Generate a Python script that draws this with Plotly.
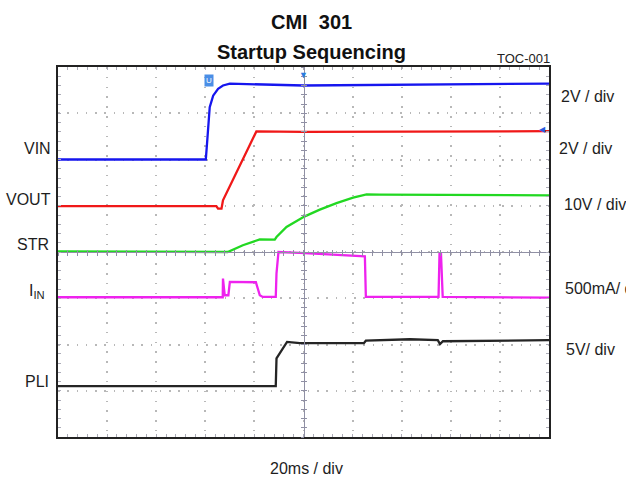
import plotly.graph_objects as go

# ---- data (time in ms, 20 ms/div; amplitude in screen divisions, centre = 0) ----
time_vin = [-100, -39.8, -39.3, -38.9, -38.2, -36.8, -34.8, -32.8, -30.0, 0, 50, 100]
vin = [2.0, 2.0, 2.34, 2.70, 3.13, 3.38, 3.53, 3.60, 3.64, 3.60, 3.62, 3.64]

time_vout = [-100, -35.5, -34.8, -33.4, -32.8, -19.2, 0, 100]
vout = [0.994, 0.994, 0.937, 0.937, 1.117, 2.607, 2.596, 2.613]

time_str = [-100, -30.9, -24.7, -17.8, -11.7, -11.0, -6.93, 0.53, 6.64, 13.45, 20.2, 25.7, 31.1, 100]
str_v = [0.015, 0.0, 0.145, 0.274, 0.268, 0.324, 0.540, 0.771, 0.916, 1.058, 1.175, 1.246, 1.240, 1.225]

time_iin = [-100, -32.9, -32.8, -32.1, -30.6, -30.0, -19.4, -17.8, -16.6, -11.3, -11.0, -10.2,
            -1.5, 25.0, 25.4, 55.0, 55.4, 56.0, 56.7, 100]
iin = [-0.978, -0.978, -0.575, -0.935, -0.935, -0.648, -0.654, -0.935, -0.972, -0.972, -0.46, 0.0,
       -0.017, -0.093, -0.972, -0.972, -0.035, -0.035, -0.972, -0.985]

time_pli = [-100, -11.3, -11.0, -10.1, -6.7, -1.5, 24.6, 25.4, 43.3, 54.7, 55.6, 56.8, 100]
pli = [-2.90, -2.90, -2.30, -2.23, -1.944, -1.972, -1.972, -1.918, -1.886, -1.905, -1.99, -1.93, -1.907]

channel_names = ["VIN", "VOUT", "STR", "I<sub>IN</sub>", "PLI"]
scale_labels = ["2V / div", "2V / div", "10V / div", "500mA/ div", "5V/ div"]
colors = ["#1616ee", "#f01818", "#22d822", "#ee22ee", "#252525"]

# ---- layout geometry (pixels) ----
FW, FH = 626, 481
L, T, W, H = 58, 67, 491, 370


def px(xp):
    return (xp - L) / W


def py(yp):
    return (T + H - yp) / H


fig = go.Figure()
series = [(time_vin, vin), (time_vout, vout), (time_str, str_v), (time_iin, iin), (time_pli, pli)]
for (t, v), c, n in zip(series, colors, channel_names):
    fig.add_trace(go.Scatter(x=t, y=v, mode="lines", line=dict(color=c, width=2.3),
                             name=n, showlegend=False, hoverinfo="skip"))

# empty traces to bring up the centre-line axes
for k in (2, 3):
    fig.add_trace(go.Scatter(x=[], y=[], xaxis=f"x{k}", yaxis=f"y{k}", showlegend=False, hoverinfo="skip"))

XR = [-100, 100]
YR = [-4, 4]
grid_c = "#b8b8b8"
tick_c = "#acacb8"
center_c = "#9090a4"

fig.update_layout(
    width=FW, height=FH,
    margin=dict(l=L, r=FW - L - W, t=T, b=FH - T - H),
    paper_bgcolor="white", plot_bgcolor="white",
    xaxis=dict(range=XR, showgrid=True, gridcolor=grid_c, gridwidth=1.5,
               griddash="1.5px,8.31px", tick0=-100, dtick=20, zeroline=False,
               showline=True, linecolor="#222222", linewidth=2, mirror="ticks",
               ticks="inside", ticklen=3, tickcolor=tick_c, showticklabels=False,
               minor=dict(dtick=4, ticks="inside", ticklen=3, tickcolor=tick_c, showgrid=False),
               fixedrange=True),
    yaxis=dict(range=YR, showgrid=True, gridcolor=grid_c, gridwidth=1.5,
               griddash="1.5px,7.75px", tick0=-4, dtick=1, zeroline=False,
               showline=True, linecolor="#222222", linewidth=2, mirror="ticks",
               ticks="inside", ticklen=3, tickcolor=tick_c, showticklabels=False,
               minor=dict(dtick=0.2, ticks="inside", ticklen=3, tickcolor=tick_c, showgrid=False),
               fixedrange=True),
    xaxis2=dict(range=XR, overlaying="x", anchor="free", position=0.5, showgrid=False,
                zeroline=False, showline=True, linecolor=center_c, linewidth=1,
                ticks="outside", ticklen=2.5, tickcolor=center_c, dtick=4, tick0=-100,
                showticklabels=False, fixedrange=True),
    yaxis2=dict(range=YR, overlaying="y", anchor="free", position=0.5, showgrid=False,
                zeroline=False, showline=True, linecolor=center_c, linewidth=1,
                ticks="outside", ticklen=2.5, tickcolor=center_c, dtick=0.2, tick0=-4,
                showticklabels=False, fixedrange=True),
    xaxis3=dict(range=XR, overlaying="x", anchor="free", position=0.5, showgrid=False,
                zeroline=False, showline=False,
                ticks="inside", ticklen=2.5, tickcolor=center_c, dtick=4, tick0=-100,
                showticklabels=False, fixedrange=True),
    yaxis3=dict(range=YR, overlaying="y", anchor="free", position=0.5, showgrid=False,
                zeroline=False, showline=False,
                ticks="inside", ticklen=2.5, tickcolor=center_c, dtick=0.2, tick0=-4,
                showticklabels=False, fixedrange=True),
)

lab_font = dict(family="Liberation Sans, Arial", size=16, color="#1e1e1e")
title_font = dict(family="Liberation Sans, Arial", size=20, color="#111111")
ann = []
# titles
ann.append(dict(text="<b>CMI\u00a0 301</b>", x=px(311.7), y=py(21.7), font=title_font,
                xanchor="center", yanchor="middle"))
ann.append(dict(text="<b>Startup Sequencing</b>", x=px(311.7), y=py(51.7), font=title_font,
                xanchor="center", yanchor="middle"))
ann.append(dict(text="TOC-001", x=px(552), y=py(58.5), font=dict(family="Liberation Sans, Arial", size=13, color="#222222"),
                xanchor="right", yanchor="middle"))
# left channel names
left_pos = [(53.3, 148), (53.3, 199), (50.5, 244), (46.7, 291.5), (50.5, 381.5)]
for n, (xx, yy) in zip(channel_names, left_pos):
    ann.append(dict(text=n, x=px(xx), y=py(yy), font=lab_font, xanchor="right", yanchor="middle"))
# right scale labels (the last-but-one runs off the right edge, as in the original)
right_pos = [(559.3, 96.7), (557.3, 148.3), (561.7, 204), (562.7, 288.3), (564, 349.3)]
for s, (xx, yy) in zip(scale_labels, right_pos):
    ann.append(dict(text=s, x=px(xx), y=py(yy), font=lab_font, xanchor="left", yanchor="middle"))
# time base
ann.append(dict(text="20ms / div", x=px(306.7), y=py(468.3), font=lab_font, xanchor="center", yanchor="middle"))
# scope markers
ann.append(dict(text="\u25bc", x=0.5, y=py(66), font=dict(size=9, color="#2a7ce0"), xanchor="center", yanchor="top"))
ann.append(dict(text="U", x=px(209), y=py(80.7), font=dict(family="Liberation Sans", size=8, color="white"),
                bgcolor="#4a8ee6", borderpad=1, xanchor="center", yanchor="middle"))
ann.append(dict(text="\u25c0", x=px(548), y=py(128.5), font=dict(size=8, color="#2a5ce0"), xanchor="right", yanchor="middle"))

for a in ann:
    a.update(xref="paper", yref="paper", showarrow=False)
fig.update_layout(annotations=ann)

fig.write_html("out.html", config={"displayModeBar": False},
               post_script="document.body.style.margin='0';document.body.style.overflow='hidden';")
